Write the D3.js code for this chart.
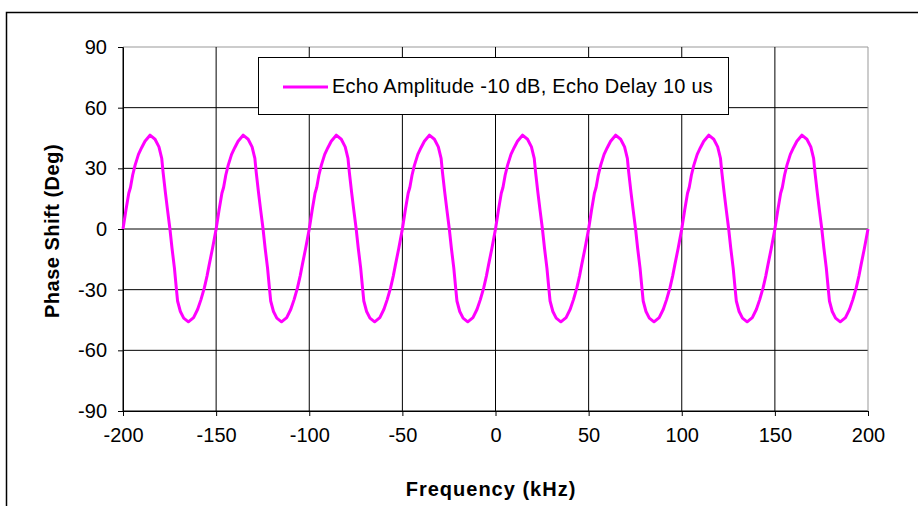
<!DOCTYPE html>
<html>
<head>
<meta charset="utf-8">
<script src="https://cdn.jsdelivr.net/npm/d3@7"></script>
<style>
  body { margin: 0; background: #fff; }
  text { font-family: "Liberation Sans", Arial, sans-serif; }
</style>
</head>
<body>
<div id="phase-chart"></div>
<script>
// values, kHz
var freqKHz = [
    -200, -198.4, -196.9, -196, -194.8, -193.5, -191.7, -190, -188.2, -185.5, -182.8, -180.7, -179.2, -178.5, -177.3, -176,
    -174.8, -173.7, -172.4, -171.4, -170.7, -169.2, -167.4, -164.9, -162.1, -159.9, -158.1, -156.3, -154.9, -153.7, -151.9,
    -150, -148.4, -146.9, -146, -144.8, -143.5, -141.7, -140, -138.2, -135.5, -132.8, -130.7, -129.2, -128.5, -127.3, -126,
    -124.8, -123.7, -122.4, -121.4, -120.7, -119.2, -117.4, -114.9, -112.1, -109.9, -108.1, -106.3, -104.9, -103.7, -101.9,
    -100, -98.4, -96.9, -96, -94.8, -93.5, -91.7, -90, -88.2, -85.5, -82.8, -80.7, -79.2, -78.5, -77.3, -76,
    -74.8, -73.7, -72.4, -71.4, -70.7, -69.2, -67.4, -64.9, -62.1, -59.9, -58.1, -56.3, -54.9, -53.7, -51.9,
    -50, -48.4, -46.9, -46, -44.8, -43.5, -41.7, -40, -38.2, -35.5, -32.8, -30.7, -29.2, -28.5, -27.3, -26,
    -24.8, -23.7, -22.4, -21.4, -20.7, -19.2, -17.4, -14.9, -12.1, -9.9, -8.1, -6.3, -4.9, -3.7, -1.9,
    0, 1.6, 3.1, 4, 5.2, 6.5, 8.3, 10, 11.8, 14.5, 17.2, 19.3, 20.8, 21.5, 22.7, 24,
    25.2, 26.3, 27.6, 28.6, 29.3, 30.8, 32.6, 35.1, 37.9, 40.1, 41.9, 43.7, 45.1, 46.3, 48.1,
    50, 51.6, 53.1, 54, 55.2, 56.5, 58.3, 60, 61.8, 64.5, 67.2, 69.3, 70.8, 71.5, 72.7, 74,
    75.2, 76.3, 77.6, 78.6, 79.3, 80.8, 82.6, 85.1, 87.9, 90.1, 91.9, 93.7, 95.1, 96.3, 98.1,
    100, 101.6, 103.1, 104, 105.2, 106.5, 108.3, 110, 111.8, 114.5, 117.2, 119.3, 120.8, 121.5, 122.7, 124,
    125.2, 126.3, 127.6, 128.6, 129.3, 130.8, 132.6, 135.1, 137.9, 140.1, 141.9, 143.7, 145.1, 146.3, 148.1,
    150, 151.6, 153.1, 154, 155.2, 156.5, 158.3, 160, 161.8, 164.5, 167.2, 169.3, 170.8, 171.5, 172.7, 174,
    175.2, 176.3, 177.6, 178.6, 179.3, 180.8, 182.6, 185.1, 187.9, 190.1, 191.9, 193.7, 195.1, 196.3, 198.1,
    200
];

// phase in degrees, same points
var phaseDeg = [
    0, 9.5, 17.7, 20.5, 26.7, 31.6, 36.9, 40.2, 43.4, 46.4, 44.4, 40.6, 34.9, 28.3, 18.5, 8.7,
    0, -9.4, -19.2, -29, -35.6, -40.8, -44.1, -45.9, -43.8, -39.7, -34.8, -29, -23.3, -17.6, -9.4,
    0, 9.5, 17.7, 20.5, 26.7, 31.6, 36.9, 40.2, 43.4, 46.4, 44.4, 40.6, 34.9, 28.3, 18.5, 8.7,
    0, -9.4, -19.2, -29, -35.6, -40.8, -44.1, -45.9, -43.8, -39.7, -34.8, -29, -23.3, -17.6, -9.4,
    0, 9.5, 17.7, 20.5, 26.7, 31.6, 36.9, 40.2, 43.4, 46.4, 44.4, 40.6, 34.9, 28.3, 18.5, 8.7,
    0, -9.4, -19.2, -29, -35.6, -40.8, -44.1, -45.9, -43.8, -39.7, -34.8, -29, -23.3, -17.6, -9.4,
    0, 9.5, 17.7, 20.5, 26.7, 31.6, 36.9, 40.2, 43.4, 46.4, 44.4, 40.6, 34.9, 28.3, 18.5, 8.7,
    0, -9.4, -19.2, -29, -35.6, -40.8, -44.1, -45.9, -43.8, -39.7, -34.8, -29, -23.3, -17.6, -9.4,
    0, 9.5, 17.7, 20.5, 26.7, 31.6, 36.9, 40.2, 43.4, 46.4, 44.4, 40.6, 34.9, 28.3, 18.5, 8.7,
    0, -9.4, -19.2, -29, -35.6, -40.8, -44.1, -45.9, -43.8, -39.7, -34.8, -29, -23.3, -17.6, -9.4,
    0, 9.5, 17.7, 20.5, 26.7, 31.6, 36.9, 40.2, 43.4, 46.4, 44.4, 40.6, 34.9, 28.3, 18.5, 8.7,
    0, -9.4, -19.2, -29, -35.6, -40.8, -44.1, -45.9, -43.8, -39.7, -34.8, -29, -23.3, -17.6, -9.4,
    0, 9.5, 17.7, 20.5, 26.7, 31.6, 36.9, 40.2, 43.4, 46.4, 44.4, 40.6, 34.9, 28.3, 18.5, 8.7,
    0, -9.4, -19.2, -29, -35.6, -40.8, -44.1, -45.9, -43.8, -39.7, -34.8, -29, -23.3, -17.6, -9.4,
    0, 9.5, 17.7, 20.5, 26.7, 31.6, 36.9, 40.2, 43.4, 46.4, 44.4, 40.6, 34.9, 28.3, 18.5, 8.7,
    0, -9.4, -19.2, -29, -35.6, -40.8, -44.1, -45.9, -43.8, -39.7, -34.8, -29, -23.3, -17.6, -9.4,
    0
];

var xTicks = [-200, -150, -100, -50, 0, 50, 100, 150, 200];
var yTicks = [-90, -60, -30, 0, 30, 60, 90];
var seriesName = "Echo Amplitude -10 dB, Echo Delay 10 us";

var width = 918;
var height = 506;

var svg = d3.select("#phase-chart")
    .append("svg")
    .attr("width", width)
    .attr("height", height);

svg.append("rect")
    .attr("width", width)
    .attr("height", height)
    .attr("fill", "#fff");

// outer chart border (runs off the right and bottom edge)
svg.append("rect")
    .attr("x", 6.5)
    .attr("y", 12.5)
    .attr("width", 930)
    .attr("height", 520)
    .attr("fill", "none")
    .attr("stroke", "#000")
    .attr("stroke-width", 1.5);

var x = d3.scaleLinear().domain([-200, 200]).range([123, 868]);
var y = d3.scaleLinear().domain([-90, 90]).range([411, 47]);

// grid
svg.append("g")
    .selectAll("line")
    .data(yTicks)
    .join("line")
    .attr("x1", x(-200))
    .attr("x2", x(200))
    .attr("y1", d => y(d))
    .attr("y2", d => y(d))
    .attr("stroke", d => d == 90 ? "#999" : "#000")
    .attr("stroke-width", 1);

svg.append("g")
    .selectAll("line")
    .data(xTicks)
    .join("line")
    .attr("x1", d => x(d))
    .attr("x2", d => x(d))
    .attr("y1", y(90))
    .attr("y2", y(-90))
    .attr("stroke", d => d == 200 ? "#999" : "#000")
    .attr("stroke-width", 1);

// axes, plain hyphen for negatives like the original
var plain = d => String(d);

var xAxis = svg.append("g")
    .attr("transform", `translate(0, ${y(-90)})`)
    .call(d3.axisBottom(x).tickValues(xTicks).tickFormat(plain).tickSize(5).tickSizeOuter(0).tickPadding(12));

var yAxis = svg.append("g")
    .attr("transform", `translate(${x(-200)}, 0)`)
    .call(d3.axisLeft(y).tickValues(yTicks).tickFormat(plain).tickSize(5).tickSizeOuter(0).tickPadding(11));

[xAxis, yAxis].forEach(a => {
    a.select(".domain").attr("stroke", "#000");
    a.selectAll(".tick line").attr("stroke", "#000");
    a.selectAll(".tick text")
        .attr("fill", "#000")
        .style("font-family", "'Liberation Sans', Arial, sans-serif")
        .style("font-size", "20px");
});

// the series
var points = freqKHz.map((f, i) => ({ f: f, p: phaseDeg[i] }));

svg.append("path")
    .datum(points)
    .attr("fill", "none")
    .attr("stroke", "#ff00ff")
    .attr("stroke-width", 3)
    .attr("stroke-linejoin", "round")
    .attr("d", d3.line()
        .x(d => x(d.f))
        .y(d => y(d.p))
    );

// legend
svg.append("rect")
    .attr("x", 258.5)
    .attr("y", 57.5)
    .attr("width", 470)
    .attr("height", 57)
    .attr("fill", "#fff")
    .attr("stroke", "#000")
    .attr("stroke-width", 1);

svg.append("line")
    .attr("x1", 283)
    .attr("x2", 328)
    .attr("y1", 87)
    .attr("y2", 87)
    .attr("stroke", "#ff00ff")
    .attr("stroke-width", 3);

svg.append("text")
    .attr("x", 332)
    .attr("y", 93)
    .style("font-size", "20px")
    .style("letter-spacing", "0.25px")
    .text(seriesName);

// axis titles
svg.append("text")
    .attr("x", 491)
    .attr("y", 496)
    .attr("text-anchor", "middle")
    .style("font-size", "20px")
    .style("font-weight", "bold")
    .style("letter-spacing", "1px")
    .text("Frequency (kHz)");

svg.append("text")
    .attr("transform", "translate(59, 231) rotate(-90)")
    .attr("text-anchor", "middle")
    .style("font-size", "20px")
    .style("font-weight", "bold")
    .style("letter-spacing", "0.5px")
    .text("Phase Shift (Deg)");
</script>
</body>
</html>
